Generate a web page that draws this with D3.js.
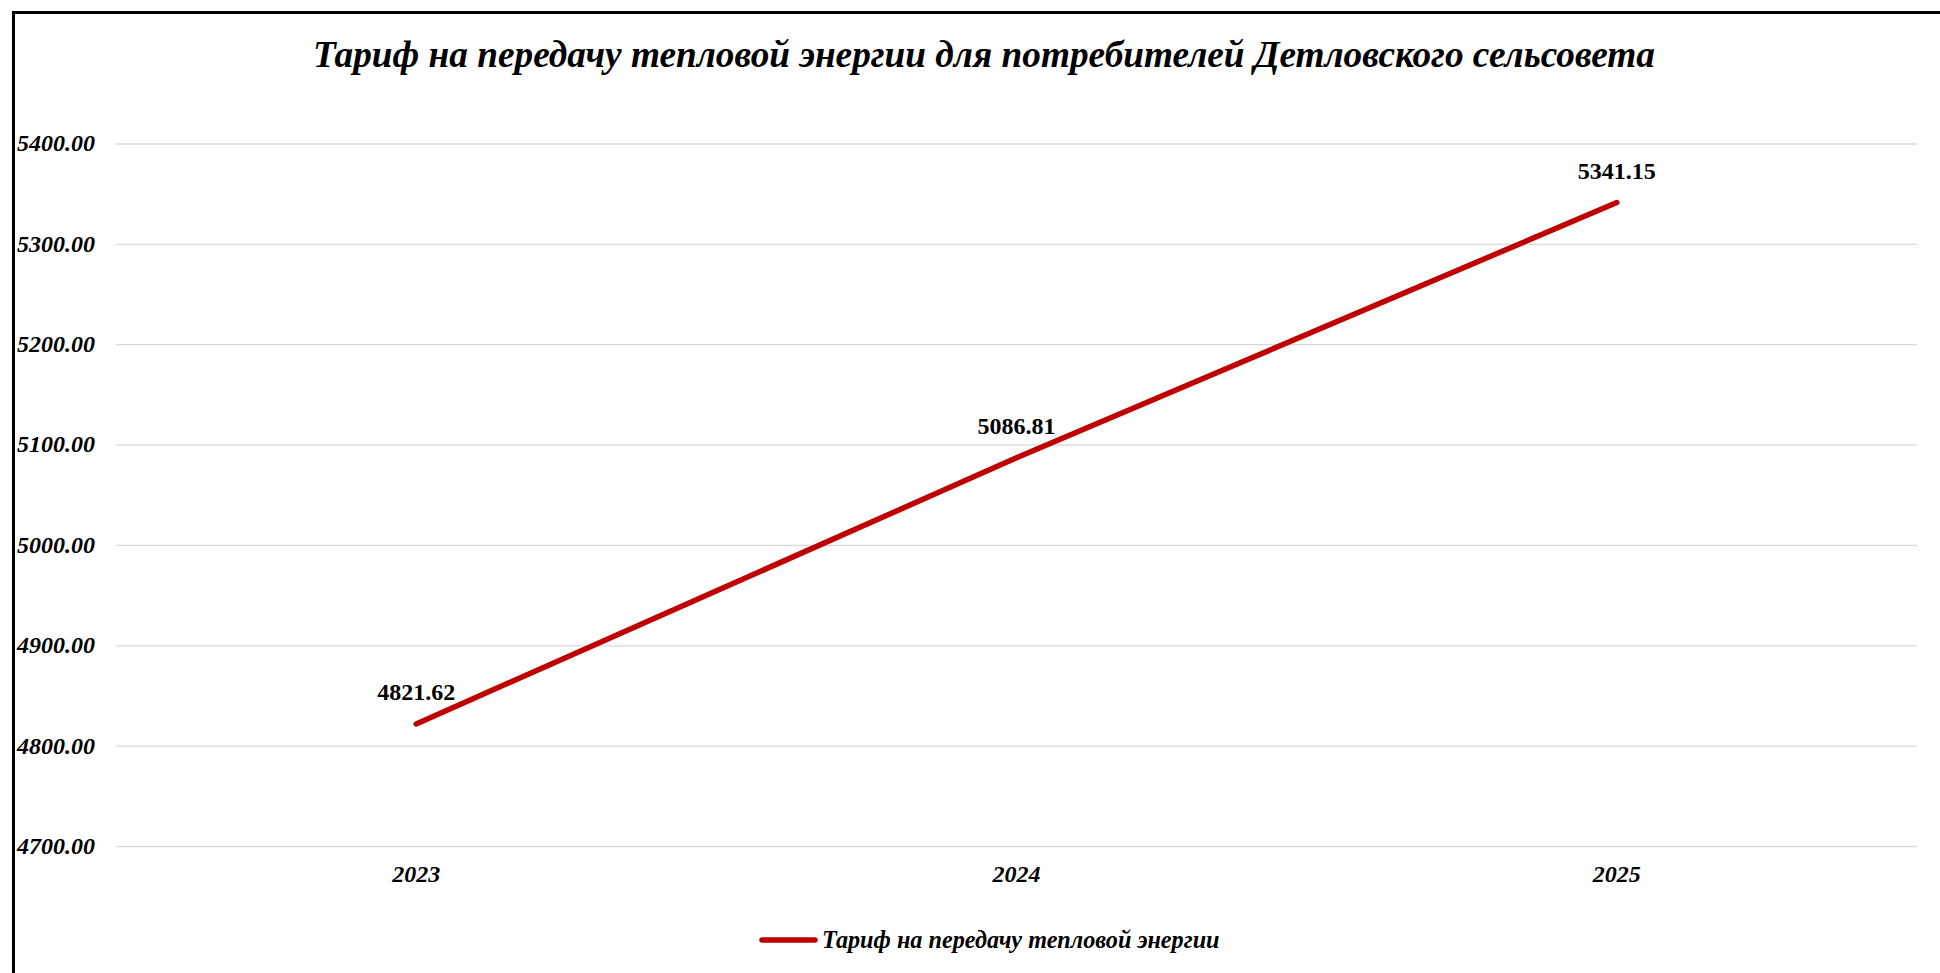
<!DOCTYPE html>
<html>
<head>
<meta charset="utf-8">
<script src="https://cdn.jsdelivr.net/npm/d3@7"></script>
<style>
  html, body { margin: 0; padding: 0; background: #fff; overflow: hidden; }
  svg { display: block; }
  text { font-family: "Liberation Serif", "Times New Roman", serif; }
</style>
</head>
<body>
<svg id="chart" width="1940" height="973"></svg>
<script>
const titleText = "Тариф на передачу тепловой энергии для потребителей Детловского сельсовета";
const seriesName = "Тариф на передачу тепловой энергии";
const categories = ["2023", "2024", "2025"];
const values = [4821.62, 5086.81, 5341.15];
const yTicks = [4700, 4800, 4900, 5000, 5100, 5200, 5300, 5400];

const svg = d3.select("#chart");
const W = 1940, H = 973;
const plot = { left: 116, right: 1917, top: 143.5, bottom: 846 };

svg.append("rect").attr("x", 0).attr("y", 0).attr("width", W).attr("height", H).attr("fill", "#fff");
// outer chart border
svg.append("rect")
  .attr("x", 13.5).attr("y", 12.5)
  .attr("width", W + 20).attr("height", H + 20)
  .attr("fill", "none").attr("stroke", "#000").attr("stroke-width", 3);

const x = d3.scaleBand().domain(categories).range([plot.left, plot.right]).padding(0);
const y = d3.scaleLinear().domain([4700, 5400]).range([plot.bottom, plot.top]);

// gridlines
const grid = d3.axisLeft(y).tickValues(yTicks).tickSize(-(plot.right - plot.left)).tickFormat("");
svg.append("g").attr("transform", `translate(${plot.left},0)`).call(grid)
  .call(g => g.select(".domain").remove())
  .call(g => g.selectAll("line").attr("stroke", "#d9d9d9").attr("stroke-width", 1.3));

// y tick labels
svg.append("g").selectAll("text").data(yTicks).join("text")
  .attr("x", 17).attr("y", d => y(d)).attr("dy", "0.33em")
  .attr("font-size", 24).attr("font-weight", "bold").attr("font-style", "italic")
  .attr("fill", "#000").text(d => d3.format(".2f")(d));

// x axis labels
const xAxis = d3.axisBottom(x).tickSize(0).tickPadding(0);
svg.append("g").attr("transform", `translate(0,${plot.bottom})`).call(xAxis)
  .call(g => g.select(".domain").remove())
  .call(g => g.selectAll("text")
    .attr("y", 36).attr("dy", 0)
    .attr("font-family", "Liberation Serif, Times New Roman, serif")
    .attr("font-size", 24).attr("font-weight", "bold").attr("font-style", "italic").attr("fill", "#000"));

// line
const pts = categories.map((c, i) => ({ c, v: values[i] }));
const line = d3.line().x(d => x(d.c) + x.bandwidth() / 2).y(d => y(d.v));
svg.append("path").datum(pts)
  .attr("d", line).attr("fill", "none")
  .attr("stroke", "#c00000").attr("stroke-width", 5.5)
  .attr("stroke-linecap", "round").attr("stroke-linejoin", "round");

// data labels
svg.append("g").selectAll("text").data(pts).join("text")
  .attr("x", d => x(d.c) + x.bandwidth() / 2)
  .attr("y", d => y(d.v) - 23.5)
  .attr("text-anchor", "middle")
  .attr("font-size", 24).attr("font-weight", "bold").attr("fill", "#000")
  .text(d => d3.format(".2f")(d.v));

// title
svg.append("text")
  .attr("x", 984).attr("y", 67)
  .attr("text-anchor", "middle")
  .attr("font-size", 37.3).attr("font-weight", "bold").attr("font-style", "italic")
  .attr("fill", "#000").text(titleText);

// legend
const lg = svg.append("g");
lg.append("line").attr("x1", 762).attr("x2", 815).attr("y1", 940).attr("y2", 940)
  .attr("stroke", "#c00000").attr("stroke-width", 5.5).attr("stroke-linecap", "round");
lg.append("text").attr("x", 822).attr("y", 948)
  .attr("font-size", 24.2).attr("font-weight", "bold").attr("font-style", "italic")
  .attr("fill", "#000").text(seriesName);
</script>
</body>
</html>
